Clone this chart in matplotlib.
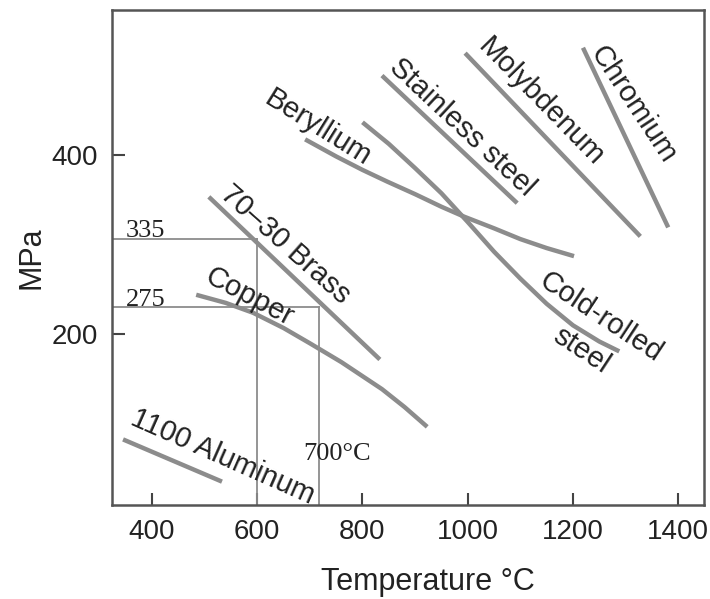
import matplotlib
matplotlib.use("Agg")
import matplotlib.pyplot as plt

plt.rcParams['font.family'] = ['Liberation Sans', 'DejaVu Sans']

# ---- data (temperature °C, strength MPa) ----
aluminum_t = [345, 533]
aluminum_s = [83, 36]

copper_t = [484, 540, 592, 650, 700, 760, 837, 880, 923]
copper_s = [244, 235, 224, 207, 190, 169, 139, 119, 97]

brass_t = [508, 833]
brass_s = [353, 172]

beryllium_t = [691, 750, 800, 847, 900, 950, 993, 1050, 1100, 1150, 1202]
beryllium_s = [417, 398, 383, 370, 356, 342, 331, 318, 306, 296, 287]

coldrolled_t = [800, 850, 900, 950, 1000, 1050, 1100, 1150, 1200, 1250, 1288]
coldrolled_s = [436, 412, 385, 357, 325, 292, 262, 234, 210, 192, 181]

stainless_t = [837, 1094]
stainless_s = [488, 346]

molybdenum_t = [995, 1328]
molybdenum_s = [513, 309]

chromium_t = [1219, 1381]
chromium_s = [519, 319]

# reference guide lines
ref_h1 = 306   # labelled "335"
ref_h2 = 230   # labelled "275"
ref_v1 = 600
ref_v2 = 717   # labelled "700°C"

xticks = [400, 600, 800, 1000, 1200, 1400]
yticks = [200, 400]

W, H = 710, 599
fig = plt.figure(figsize=(W / 100, H / 100), dpi=100)
ax = fig.add_axes([112 / W, 1 - 505 / H, (704 - 112) / W, (505 - 10) / H])
ax.set_xlim(324, 1449)
ax.set_ylim(10, 561)

curve_kw = dict(color='#8c8c8c', lw=3.2, solid_capstyle='butt', solid_joinstyle='round')
for t, s in [(aluminum_t, aluminum_s), (copper_t, copper_s), (brass_t, brass_s),
             (beryllium_t, beryllium_s), (coldrolled_t, coldrolled_s),
             (stainless_t, stainless_s), (molybdenum_t, molybdenum_s),
             (chromium_t, chromium_s)]:
    ax.plot(t, s, **curve_kw)

ref_kw = dict(color='#8c8c8c', lw=1.3)
ax.plot([324, ref_v1], [ref_h1, ref_h1], **ref_kw)
ax.plot([ref_v1, ref_v1], [10, ref_h1], **ref_kw)
ax.plot([324, ref_v2], [ref_h2, ref_h2], **ref_kw)
ax.plot([ref_v2, ref_v2], [10, ref_h2], **ref_kw)

tc = '#222222'
lab_kw = dict(fontsize=21, color=tc, ha='center', va='center', rotation_mode='anchor')
ax.text(716, 430, 'Beryllium', rotation=-32, **lab_kw)
ax.text(989, 431, 'Stainless steel', rotation=-43, **lab_kw)
ax.text(1140, 459, 'Molybdenum', rotation=-45.6, **lab_kw)
ax.text(1314, 456, 'Chromium', rotation=-56.5, **lab_kw)
ax.text(653, 300, '70\u201330 Brass', rotation=-41.7, **lab_kw)
ax.text(586, 242, 'Copper', rotation=-27.8, **lab_kw)
ax.text(535, 64, '1100 Aluminum', rotation=-23.9, **lab_kw)
ax.text(1252, 219, 'Cold-rolled', rotation=-33.4, **lab_kw)
ax.text(1216, 182, 'steel', rotation=-33.4, **lab_kw)

serif = dict(family=['Liberation Serif', 'DejaVu Serif'], fontsize=19, color=tc)
ax.text(350, ref_h1 + 2, '335', ha='left', va='baseline', **serif)
ax.text(350, ref_h2 + 2, '275', ha='left', va='baseline', **serif)
ax.text(687, 60, '700\u00b0C', ha='left', va='baseline', **serif)

ax.set_xticks(xticks)
ax.set_yticks(yticks)
ax.tick_params(direction='in', length=9, width=1.5, color='#444444',
               labelsize=20, labelcolor=tc, pad=10)
for sp in ax.spines.values():
    sp.set_color('#555555')
    sp.set_linewidth(1.8)

ax.set_xlabel('Temperature \u00b0C', fontsize=22, color=tc)
ax.set_ylabel('MPa', fontsize=22, color=tc)
ax.xaxis.set_label_coords((428 - 112) / (704 - 112), -(567 - 505) / (505 - 10))
ax.yaxis.set_label_coords(-(112 - 46) / (704 - 112), 0.5)

fig.savefig('out.png', dpi=100)
